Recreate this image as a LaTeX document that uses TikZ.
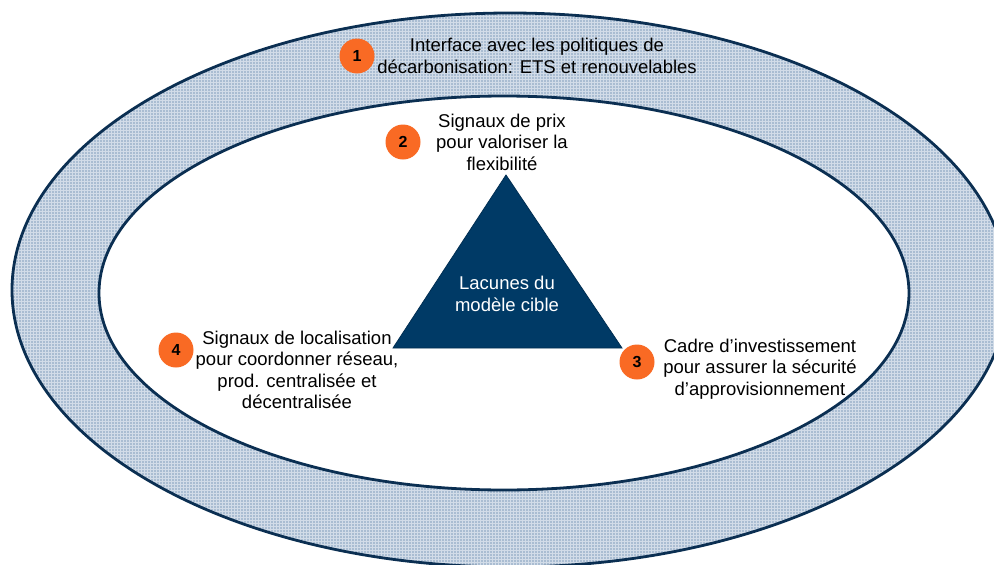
\documentclass[tikz,border=0pt]{standalone}
\usepackage{fontspec}
\setmainfont{Liberation Sans}
\usetikzlibrary{patterns,positioning}
\definecolor{navy}{HTML}{0B2F52}
\definecolor{core}{HTML}{003A66}
\definecolor{band}{HTML}{AABDD2}
\definecolor{bandline}{HTML}{D2DCE8}
\definecolor{badge}{HTML}{F96A24}

\tikzset{
  gaptext/.style={align=center, inner sep=0pt,
    font=\fontsize{18.5}{21.5}\selectfont},
  num/.style={circle, fill=badge, minimum size=35pt, inner sep=0pt,
    font=\fontsize{16}{16}\selectfont\bfseries},
  ring/.style={draw=navy, line width=2.8pt},
}

\begin{document}
\begin{tikzpicture}[x=1pt,y=-1pt]
  \useasboundingbox (0,0) rectangle (994,565);

  % outer band, cut by the page edge
  \begin{scope}
    \clip (0,0) rectangle (994,565);
    \fill[band] (510,290) ellipse [x radius=498pt, y radius=277pt];
    \fill[pattern=grid, pattern color=bandline]
      (510,290) ellipse [x radius=498pt, y radius=277pt];
    \draw[ring] (510,290) ellipse [x radius=498pt, y radius=277pt];
  \end{scope}

  % inner field
  \filldraw[ring, fill=white] (504,293) ellipse [x radius=405pt, y radius=197pt];

  % central triangle
  \coordinate (top) at (506,175);
  \coordinate (bl) at (393,348);
  \coordinate (br) at (622,348);
  \filldraw[fill=core, draw=core!80!black, line width=0.8pt] (top) -- (bl) -- (br) -- cycle;
  \node[gaptext, text=white] (lacunes) at (507,294) {Lacunes du\\modèle cible};

  % the four gaps
  \node[gaptext] (decarb) at (537,56)
    {Interface avec les politiques de\\décarbonisation: ETS et renouvelables};
  \node[gaptext] (prix) at (502,142)
    {Signaux de prix\\pour valoriser la\\flexibilité};
  \node[gaptext] (invest) at (760,369)
    {Cadre d’investissement\\pour assurer la sécurité\\d’approvisionnement};
  \node[gaptext] (local) at (297,370)
    {Signaux de localisation\\pour coordonner réseau,\\prod. centralisée et\\décentralisée};

  \node[num] (n1) at (357,56) {1};
  \node[num] (n2) at (403,142) {2};
  \node[num] (n3) at (637,362) {3};
  \node[num] (n4) at (176,350) {4};
\end{tikzpicture}
\end{document}
